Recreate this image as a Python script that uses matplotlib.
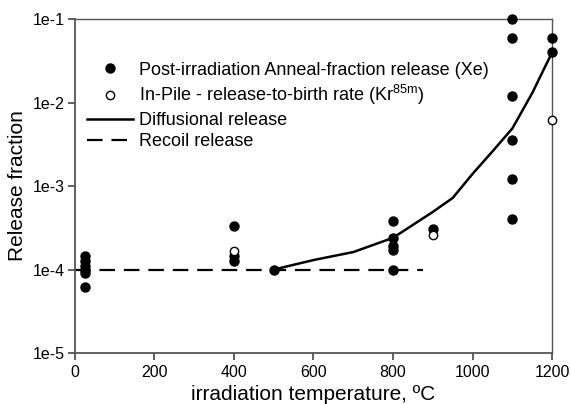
import numpy as np
import matplotlib.pyplot as plt
from matplotlib.lines import Line2D

plt.rcParams['font.family'] = ['Liberation Sans', 'DejaVu Sans']
plt.rcParams['mathtext.fontset'] = 'custom'
plt.rcParams['mathtext.rm'] = 'Liberation Sans'

# post-irradiation anneal (Xe), filled circles
anneal_t = [25, 25, 25, 25, 25, 25, 400, 400, 400, 500, 800, 800, 800, 800, 800, 900,
            1100, 1100, 1100, 1100, 1100, 1100, 1200, 1200]
anneal_f = [1.44e-4, 1.26e-4, 1.1e-4, 1.0e-4, 0.9e-4, 6.1e-5, 3.3e-4, 1.44e-4, 1.25e-4, 1.0e-4,
            3.8e-4, 2.4e-4, 1.9e-4, 1.7e-4, 1.0e-4, 3.1e-4,
            0.1, 0.06, 0.012, 3.6e-3, 1.2e-3, 4.0e-4, 0.06, 0.04]

# in-pile release-to-birth (Kr85m), open circles
inpile_t = [400, 900, 1200]
inpile_f = [1.65e-4, 2.6e-4, 6.2e-3]

# diffusional release curve
diff_t = [500, 600, 700, 800, 900, 950, 1000, 1050, 1100, 1150, 1200]
diff_f = [1.0e-4, 1.3e-4, 1.62e-4, 2.4e-4, 4.9e-4, 7.2e-4, 1.4e-3, 2.6e-3, 4.9e-3, 1.3e-2, 0.04]

# recoil release
recoil_t = [0, 875]
recoil_f = [1e-4, 1e-4]

fig = plt.figure(figsize=(5.71, 4.04), dpi=100)
ax = fig.add_axes([0.131, 0.126, 0.836, 0.827])

ax.plot(diff_t, diff_f, color='black', lw=1.8, zorder=2)
ax.plot(recoil_t, recoil_f, color='black', lw=1.6, dashes=(7, 4), zorder=2)
ax.plot(anneal_t, anneal_f, 'o', color='black', ms=6.5, ls='none', zorder=3, clip_on=False)
ax.plot(inpile_t, inpile_f, 'o', mfc='white', mec='black', mew=1.0, ms=6, ls='none',
        zorder=4, clip_on=False)

ax.set_yscale('log')
ax.set_ylim(1e-5, 1e-1)
ax.set_xlim(0, 1200)
ax.set_xticks([0, 200, 400, 600, 800, 1000, 1200])
yt = [1e-5, 1e-4, 1e-3, 1e-2, 1e-1]
ax.set_yticks(yt)
ax.set_yticklabels(['1e-5', '1e-4', '1e-3', '1e-2', '1e-1'])
ax.minorticks_off()
ax.tick_params(labelsize=11.5, length=5, width=1.2, color='#444444', direction='out')
ax.tick_params(axis='y', pad=2)
for s in ax.spines.values():
    s.set_color('#555555')
    s.set_linewidth(1.3)
ax.spines['top'].set_linewidth(1.0)
ax.spines['right'].set_linewidth(1.0)

ax.set_ylabel('Release fraction', fontsize=15, labelpad=4)
ax.set_xlabel('irradiation temperature, \u00baC', fontsize=15, labelpad=4)

handles = [
    Line2D([], [], marker='o', color='black', ls='none', ms=6.5),
    Line2D([], [], marker='o', mfc='white', mec='black', ls='none', ms=6),
    Line2D([], [], color='black', lw=1.8),
    Line2D([], [], color='black', lw=1.6, dashes=(7, 4)),
]
labels = [
    'Post-irradiation Anneal-fraction release (Xe)',
    'In-Pile - release-to-birth rate (Kr$^{\\mathregular{85m}}$)',
    'Diffusional release',
    'Recoil release',
]
ax.legend(handles, labels, loc='upper left', bbox_to_anchor=(0.0, 0.91), frameon=False,
          fontsize=13, handlelength=2.5, handletextpad=0.35, labelspacing=0.25,
          borderaxespad=0.3)

fig.savefig('out.png', dpi=100)
